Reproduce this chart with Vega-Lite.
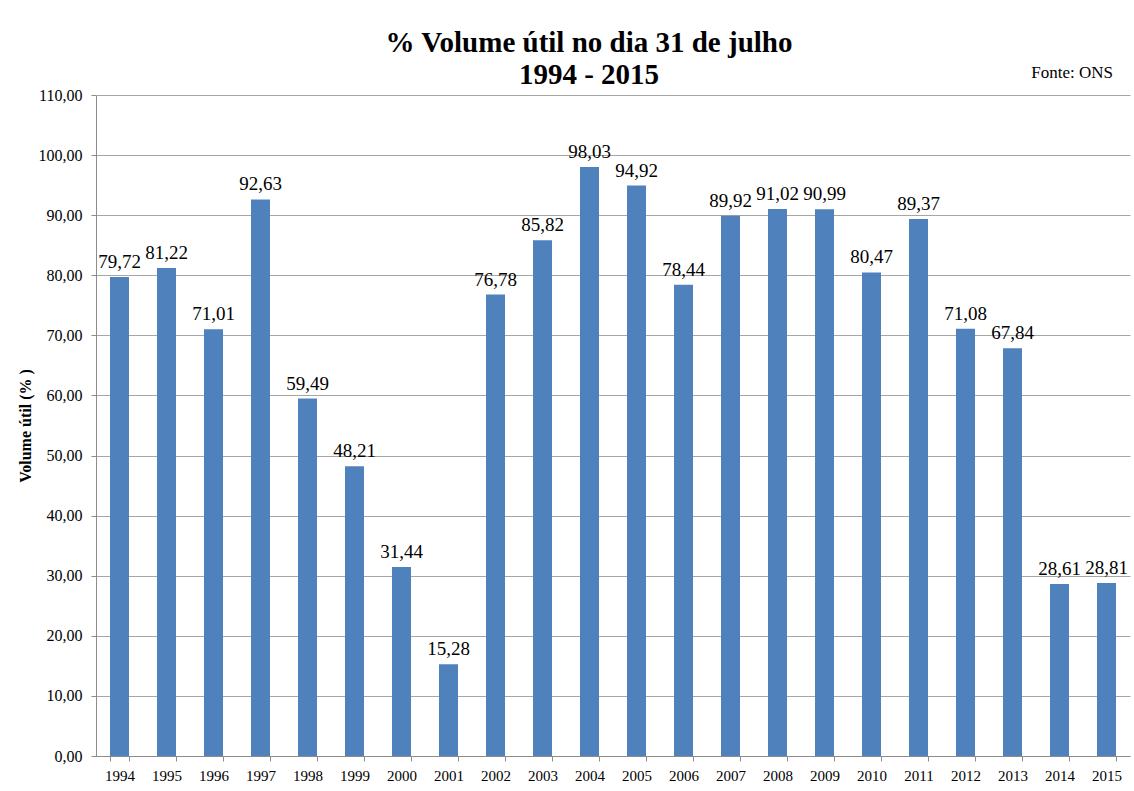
{
  "$schema": "https://vega.github.io/schema/vega-lite/v6.json",
  "width": 1034,
  "height": 661,
  "autosize": {"type": "none"},
  "padding": {"left": 96, "top": 95, "right": 4, "bottom": 35},
  "background": "white",
  "config": {
    "locale": {"number": {"decimal": ",", "thousands": ".", "grouping": [3], "currency": ["R$", ""]}},
    "font": "Liberation Serif",
    "view": {"stroke": null}
  },
  "title": {
    "text": ["% Volume útil no dia 31 de julho", "1994 - 2015"],
    "font": "Liberation Serif",
    "fontSize": 29,
    "fontWeight": "bold",
    "color": "black",
    "lineHeight": 32,
    "anchor": "middle",
    "dx": -24,
    "dy": 36,
    "offset": 10
  },
  "data": {
    "values": [
      {"ano": "1994", "valor": 79.72},
      {"ano": "1995", "valor": 81.22},
      {"ano": "1996", "valor": 71.01},
      {"ano": "1997", "valor": 92.63},
      {"ano": "1998", "valor": 59.49},
      {"ano": "1999", "valor": 48.21},
      {"ano": "2000", "valor": 31.44},
      {"ano": "2001", "valor": 15.28},
      {"ano": "2002", "valor": 76.78},
      {"ano": "2003", "valor": 85.82},
      {"ano": "2004", "valor": 98.03},
      {"ano": "2005", "valor": 94.92},
      {"ano": "2006", "valor": 78.44},
      {"ano": "2007", "valor": 89.92},
      {"ano": "2008", "valor": 91.02},
      {"ano": "2009", "valor": 90.99},
      {"ano": "2010", "valor": 80.47},
      {"ano": "2011", "valor": 89.37},
      {"ano": "2012", "valor": 71.08},
      {"ano": "2013", "valor": 67.84},
      {"ano": "2014", "valor": 28.61},
      {"ano": "2015", "valor": 28.81}
    ]
  },
  "encoding": {
    "x": {
      "field": "ano",
      "type": "nominal",
      "sort": null,
      "scale": {"paddingInner": 0.596, "paddingOuter": 0.298},
      "axis": {
        "title": null,
        "labelAngle": 0,
        "labelFont": "Liberation Serif",
        "labelFontSize": 15,
        "labelColor": "black",
        "labelPadding": 7,
        "tickBand": "extent",
        "tickSize": 5,
        "tickColor": "#8c8c8c",
        "domainColor": "#8c8c8c",
        "grid": false
      }
    },
    "y": {
      "field": "valor",
      "type": "quantitative",
      "scale": {"domain": [0, 110], "nice": false},
      "axis": {
        "title": "Volume útil (% )",
        "titleFont": "Liberation Serif",
        "titleFontSize": 16,
        "titleFontWeight": "bold",
        "titleColor": "black",
        "titlePadding": 5,
        "values": [0, 10, 20, 30, 40, 50, 60, 70, 80, 90, 100, 110],
        "format": ".2f",
        "labelFont": "Liberation Serif",
        "labelFontSize": 16,
        "labelColor": "black",
        "labelPadding": 9,
        "tickSize": 5,
        "tickColor": "#8c8c8c",
        "domainColor": "#8c8c8c",
        "gridColor": "#a6a6a6",
        "gridWidth": 1
      }
    }
  },
  "layer": [
    {"mark": {"type": "bar", "color": "#4F81BD"}},
    {
      "mark": {"type": "text", "baseline": "alphabetic", "dy": -9, "font": "Liberation Serif", "fontSize": 19, "color": "black"},
      "encoding": {"text": {"field": "valor", "type": "quantitative", "format": ".2f"}}
    },
    {
      "transform": [{"filter": "datum.ano == '2015'"}],
      "mark": {"type": "text", "align": "right", "baseline": "alphabetic", "dx": 6.5, "dy": -17, "font": "Liberation Serif", "fontSize": 17, "color": "black"},
      "encoding": {
        "y": {"datum": 110, "type": "quantitative"},
        "text": {"value": "Fonte: ONS"}
      }
    }
  ]
}
